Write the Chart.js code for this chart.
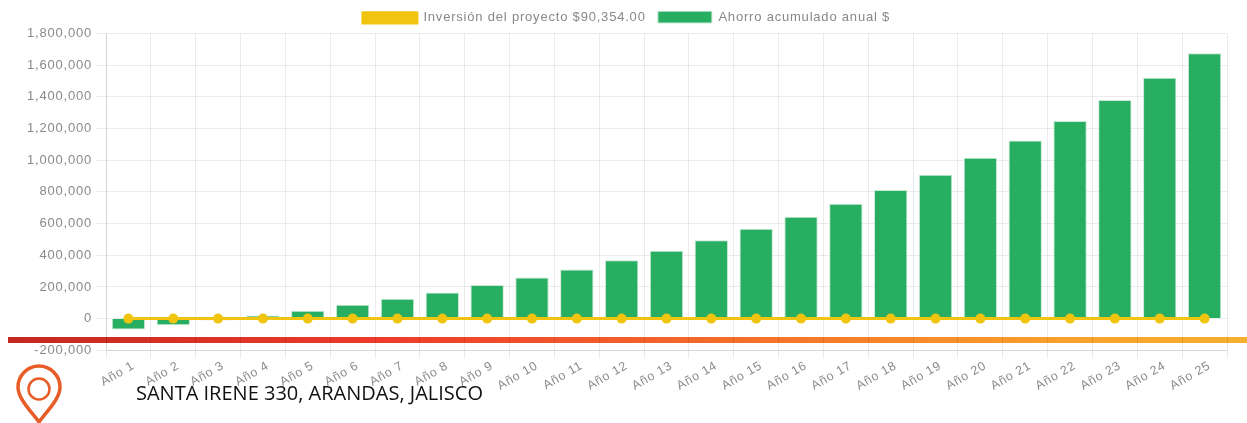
<!DOCTYPE html>
<html>
<head>
<meta charset="utf-8">
<script src="https://cdn.jsdelivr.net/npm/chart.js@4"></script>
<style>
  html, body { margin: 0; padding: 0; background: #fff; overflow: hidden; }
  #wrap { position: relative; width: 1247px; height: 423px; overflow: hidden; }
  #ahorro { position: absolute; left: 0; top: 0; }
  #band {
    position: absolute; left: 8px; top: 337px; width: 1239px; height: 6px;
    background: linear-gradient(90deg, #c4281f 0%, #ee3a2a 30%, #f4702a 60%, #f9a02a 85%, #f5b02e 100%);
    mix-blend-mode: multiply;
  }
  #address {
    position: absolute; left: 136px; top: 379px;
    font: 20px "Open Sans", sans-serif; color: #111; white-space: nowrap;
  }
  #pin { position: absolute; left: 14px; top: 364px; }
</style>
</head>
<body>
<div id="wrap">
  <canvas id="ahorro" width="1247" height="423"></canvas>
  <div id="band"></div>
  <svg id="pin" width="50" height="59" viewBox="0 0 50 59">
    <path d="M25 58 C15 45 4 34 4 23 A21 21 0 0 1 46 23 C46 34 35 45 25 58 Z" fill="none" stroke="#e85d27" stroke-width="3.5"/>
    <circle cx="25" cy="25" r="10.5" fill="none" stroke="#e85d27" stroke-width="2.5"/>
  </svg>
  <div id="address">SANTA IRENE 330, ARANDAS, JALISCO</div>
</div>
<script>
const years = ['Año 1', 'Año 2', 'Año 3', 'Año 4', 'Año 5', 'Año 6', 'Año 7', 'Año 8', 'Año 9', 'Año 10',
  'Año 11', 'Año 12', 'Año 13', 'Año 14', 'Año 15', 'Año 16', 'Año 17', 'Año 18', 'Año 19', 'Año 20',
  'Año 21', 'Año 22', 'Año 23', 'Año 24', 'Año 25'];
const ahorro = [-69000, -42000, -12000, 20000, 50000, 87000, 125000, 165000, 212000, 260000,
  310000, 368000, 428000, 495000, 567000, 643000, 725000, 812000, 908000, 1015000,
  1125000, 1248000, 1380000, 1520000, 1675000];
const inversion = [0, 0, 0, 0, 0, 0, 0, 0, 0, 0, 0, 0, 0, 0, 0, 0, 0, 0, 0, 0, 0, 0, 0, 0, 0];

const fontFamily = '"Liberation Sans", Arial, sans-serif';

// the reference text is stretched sideways, letter spacing gets close to that
const textSpacing = {
  id: 'textSpacing',
  beforeUpdate(chart) { chart.ctx.letterSpacing = '0.8px'; },
  beforeDraw(chart) { chart.ctx.letterSpacing = '0.8px'; },
};

const ahorroChart = new Chart(document.querySelector('#ahorro'), {
  type: 'bar',
  plugins: [textSpacing],
  data: {
    labels: years,
    datasets: [
      {
        type: 'line',
        // trailing spaces widen the gap between the two legend items
        label: 'Inversión del proyecto $90,354.00   ',
        data: inversion,
        borderColor: '#f1c40f',
        backgroundColor: '#f1c40f',
        borderWidth: 3,
        pointRadius: 3.5,
        pointBackgroundColor: '#f1c40f',
        pointBorderColor: '#f1c40f',
        tension: 0,
        order: 1,
      },
      {
        label: 'Ahorro acumulado anual $',
        data: ahorro,
        backgroundColor: '#27ae60',
        borderColor: '#c9e9d6',
        borderWidth: 1,
        barPercentage: 0.93,
        order: 2,
      },
    ],
  },
  options: {
    responsive: false,
    animation: false,
    layout: { padding: { top: 11.5, right: 20, bottom: 29.5, left: 26 } },
    plugins: {
      tooltip: { enabled: false },
      legend: {
        display: true,
        position: 'top',
        labels: {
          boxWidth: 54,
          boxHeight: 12,
          padding: -1,
          color: '#888',
          font: { family: fontFamily, size: 13 },
        },
      },
    },
    scales: {
      x: {
        grid: { color: 'rgba(0,0,0,0.08)', tickLength: 8 },
        ticks: {
          color: '#8a8a8a',
          font: { family: fontFamily, size: 12.5 },
          maxRotation: 30,
          minRotation: 30,
          autoSkip: false,
          padding: 0,
          labelOffset: 5,
        },
      },
      y: {
        min: -200000,
        max: 1800000,
        afterFit(scale) { scale.width = 80; },
        grid: { color: 'rgba(0,0,0,0.08)', tickLength: 10 },
        ticks: {
          stepSize: 200000,
          color: '#8a8a8a',
          font: { family: fontFamily, size: 13 },
          padding: 4,
          callback: value => value.toLocaleString('en-US'),
        },
      },
    },
  },
});
</script>
</body>
</html>
